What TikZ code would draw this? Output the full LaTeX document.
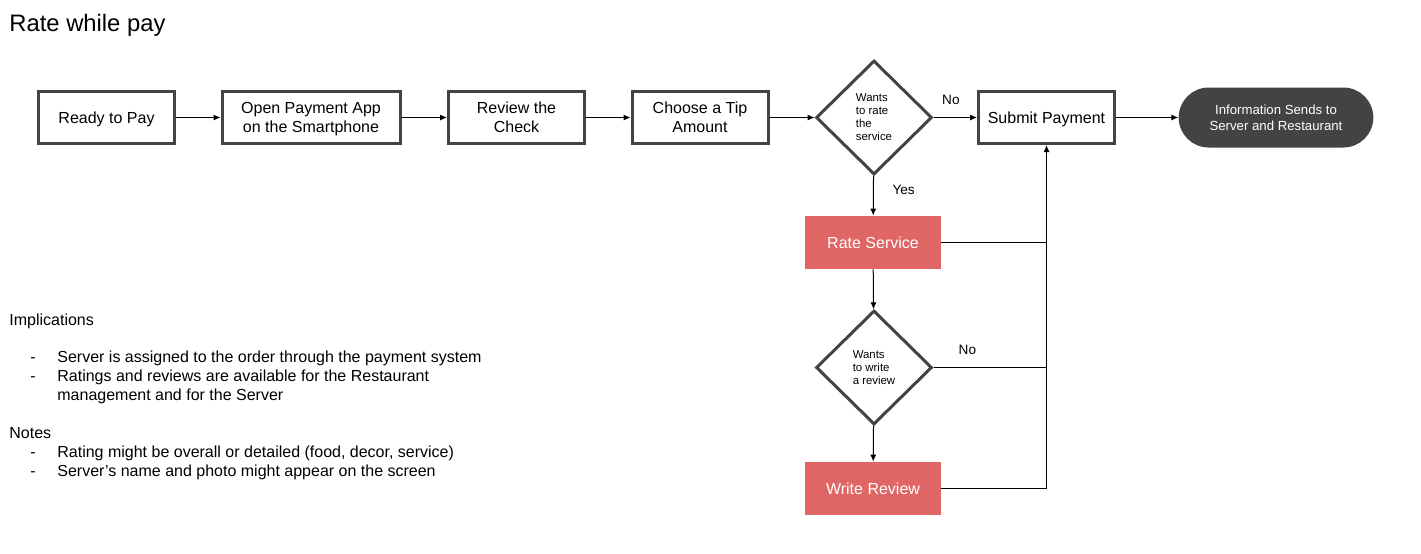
\documentclass[tikz,border=0pt]{standalone}
\usepackage{fontspec}
\setmainfont{Liberation Sans}
\usetikzlibrary{shapes.geometric,shapes.misc,arrows.meta}
\definecolor{edgegray}{HTML}{434343}
\definecolor{termfill}{HTML}{434343}
\definecolor{redfill}{HTML}{E06666}
\tikzset{
  stepbox/.style={draw=edgegray, line width=1.5pt, fill=white, minimum width=68pt, minimum height=26pt, inner sep=1pt, text depth=0pt, align=center, font=\fontsize{8}{9.5}\selectfont},
  redbox/.style={fill=redfill, draw=none, minimum width=68pt, minimum height=26.5pt, inner sep=1pt, text depth=0pt, align=center, text=white, font=\fontsize{8}{9.5}\selectfont},
  decision/.style={diamond, aspect=1, draw=edgegray, line width=1.5pt, fill=white, minimum width=58pt, minimum height=57pt, inner sep=0pt, align=left, font=\fontsize{5.7}{6.5}\selectfont},
  terminal/.style={rounded rectangle, fill=termfill, draw=none, minimum width=104pt, minimum height=30pt, align=center, text=white, font=\fontsize{6.6}{8}\selectfont},
  conn/.style={line width=0.5pt, -{Latex[length=3.5pt,width=3pt]}},
  plain/.style={line width=0.5pt},
  lbl/.style={font=\fontsize{6.8}{8}\selectfont},
  note/.style={anchor=base west, inner sep=0pt, font=\fontsize{8}{9.5}\selectfont},
}
\begin{document}
\begin{tikzpicture}[x=0.5pt,y=-0.5pt]
\useasboundingbox (0,0) rectangle (1421,553);
\node[note, font=\fontsize{11.9}{13}\selectfont] (title) at (9,31) {Rate while pay};

\node[stepbox] (ready) at (106.5,117.5) {Ready to Pay};
\node[stepbox, minimum width=89pt] (open) at (311,117.5) {Open Payment App\\on the Smartphone};
\node[stepbox] (review) at (516.5,117.5) {Review the\\Check};
\node[stepbox] (tip) at (700,117.5) {Choose a Tip\\Amount};
\node[decision] (d1) at (874,117.5) {Wants\\to rate\\the\\service};
\node[stepbox] (submit) at (1046.5,117.5) {Submit Payment};
\node[terminal, minimum width=104pt] (info) at (1276,117.5) {Information Sends to\\Server and Restaurant};
\node[redbox] (rate) at (873,242.5) {Rate Service};
\node[decision] (d2) at (874,367.5) {Wants\\to write\\a review};
\node[redbox] (write) at (873,488.5) {Write Review};

\draw[conn] (ready) -- (open);
\draw[conn] (open) -- (review);
\draw[conn] (review) -- (tip);
\draw[conn] (tip) -- (d1);
\draw[conn] (d1) -- node[lbl, above=3pt, pos=0.4] (no1) {No} (submit);
\draw[conn] (submit) -- (info);
\draw[conn] (d1) -- node[lbl, right=6pt, pos=0.35] (yes1) {Yes} (rate);
\draw[conn] (rate) -- (d2);
\draw[conn] (d2) -- (write);
\coordinate (m1) at (rate.east -| submit.south);
\coordinate (m2) at (d2.east -| submit.south);
\draw[plain] (rate.east) -- (m1);
\draw[plain] (d2.east) -- node[lbl, above=3pt, pos=0.3] (no2) {No} (m2);
\draw[conn] (write.east) -| (submit.south);

\node[note] (imp) at (9,325) {Implications};
\node[note] (i1d) at (30,362) {-};
\node[note] (i1) at (57,362) {Server is assigned to the order through the payment system};
\node[note] (i2d) at (30,381) {-};
\node[note] (i2) at (57,381) {Ratings and reviews are available for the Restaurant};
\node[note] (i3) at (57,400) {management and for the Server};
\node[note] (notes) at (9,438) {Notes};
\node[note] (n1d) at (30,457) {-};
\node[note] (n1) at (57,457) {Rating might be overall or detailed (food, decor, service)};
\node[note] (n2d) at (30,476) {-};
\node[note] (n2) at (57,476) {Server’s name and photo might appear on the screen};
\end{tikzpicture}
\end{document}
